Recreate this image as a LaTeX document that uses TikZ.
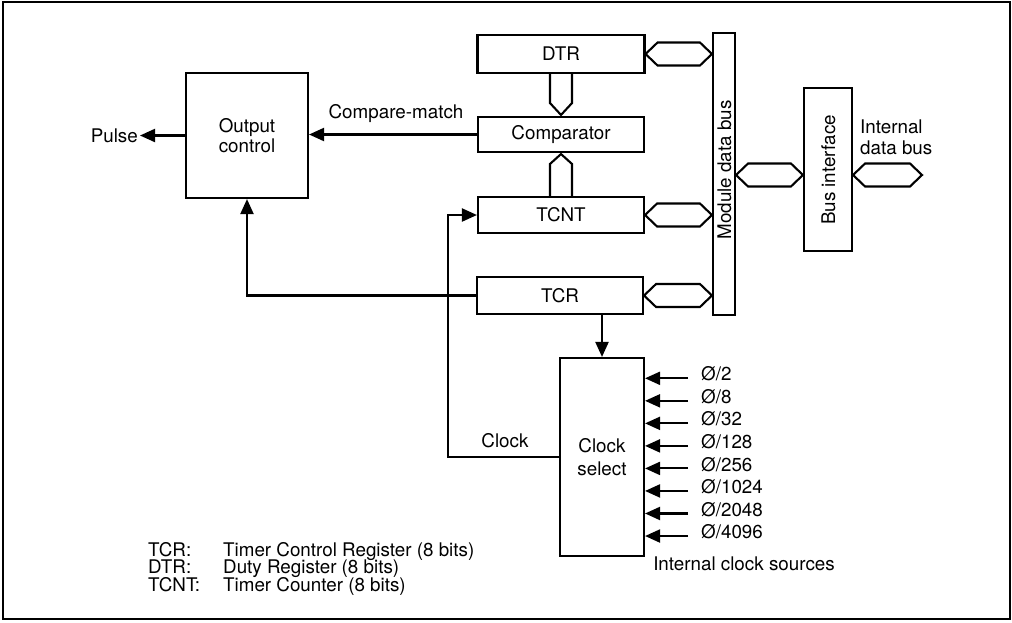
\documentclass[tikz,border=0pt]{standalone}
\usepackage{fontspec}
\setmainfont{TeX Gyre Heros}
\usetikzlibrary{arrows.meta,calc}
\newcommand\fsz{\fontsize{18.8}{21}\selectfont}
\newcommand\hbus[2]{\draw[buspath] (#1) -- ($(#1)+(12,-11.5)$) -- ($(#2)+(-12,-11.5)$) -- (#2) -- ($(#2)+(-12,11.5)$) -- ($(#1)+(12,11.5)$) -- cycle;}
\begin{document}
\begin{tikzpicture}[x=1pt,y=-1pt,
  lw/.style={line width=2.1pt},
  box/.style={draw,lw,inner sep=0pt,align=center,font=\fsz},
  txt/.style={inner sep=0pt,font=\fsz},
  arr/.style={lw,-{Triangle[length=15pt,width=13pt]}},
  buspath/.style={lw,line join=miter}]
\useasboundingbox (0,0) rectangle (1012,622);
\draw[line width=2.4pt] (3,2) rectangle (1010,619);

% blocks
\node[box,minimum width=122,minimum height=125] (oc) at (247,135.5) {Output\\[-1pt]control};
\node[box,minimum width=167,minimum height=38] (dtr) at (561,54) {DTR};
\node[box,minimum width=166,minimum height=35] (cmp) at (561,134.5) {Comparator};
\node[box,minimum width=166,minimum height=36] (tcnt) at (561,215) {TCNT};
\node[box,minimum width=166,minimum height=37] (tcr) at (560,295.5) {TCR};
\node[box,minimum width=84,minimum height=198] (cs) at (602,457) {Clock\\[2pt]select};
\node[box,minimum width=22,minimum height=282] (bar) at (724,174) {};
\node[txt,rotate=90] (mdb) at (724.5,170) {Module data bus};
\node[box,minimum width=48,minimum height=163] (bi) at (828,169.5) {};
\node[txt,rotate=90] (bitxt) at (828.5,170) {Bus interface};

% horizontal buses
\coordinate (b1) at (dtr.east -| bar.west);
\coordinate (b2) at (tcnt.east -| bar.west);
\coordinate (b3) at (tcr.east -| bar.west);
\coordinate (b4l) at (bar.east |- 0,175);
\coordinate (b4r) at (bi.west |- 0,175);
\coordinate (b5l) at (bi.east |- 0,175);
\coordinate (ibus) at (922,175);
\hbus{dtr.east}{b1}
\hbus{tcnt.east}{b2}
\hbus{tcr.east}{b3}
\hbus{b4l}{b4r}
\hbus{b5l}{ibus}
\node[txt,align=left,anchor=west] (idb) at (860,137.5) {Internal\\data bus};

% vertical buses
\draw[buspath] ($(dtr.south)+(-11,0)$) -- ++(0,29) -- ($(cmp.north)+(0,-1)$) -- ($(dtr.south)+(11,29)$) -- ++(0,-29);
\draw[buspath] ($(tcnt.north)+(-11,0)$) -- ++(0,-32) -- ($(cmp.south)+(0,1)$) -- ($(tcnt.north)+(11,-32)$) -- ++(0,32);

% signals
\node[txt,anchor=east,inner xsep=2pt] (pulse) at (140,135.5) {Pulse};
\draw[arr] (oc.west) -- (pulse.east);
\draw[arr] (cmp.west) -- (cmp.west -| oc.east);
\node[txt] (cmlbl) at (396,114) {Compare-match};
\draw[arr] (tcr.west) -| (oc.south);
\coordinate (clk) at (448,0);
\draw[arr] (cs.west) -- (cs.west -| clk) |- (tcnt.west);
\node[txt] (clklbl) at (505,441) {Clock};
\draw[arr] (tcr.south -| cs.north) -- (cs.north);

% clock sources
\foreach \lab [count=\i] in {2,8,32,128,256,1024,2048,4096} {
  \pgfmathsetmacro\yy{378.3+22.53*(\i-1)}
  \coordinate (s\i) at (688,\yy);
  \node[txt,anchor=mid west] (in\i) at (701,\yy) {Ø/\lab};
  \draw[arr] (s\i) -- (cs.east |- s\i);
}
\node[txt] (ics) at (744,564) {Internal clock sources};

% legend
\node[txt,anchor=base west] (k1) at (148,556) {TCR:};
\node[txt,anchor=base west] (v1) at (223,556) {Timer Control Register (8 bits)};
\node[txt,anchor=base west] (k2) at (148,573.5) {DTR:};
\node[txt,anchor=base west] (v2) at (223,573.5) {Duty Register (8 bits)};
\node[txt,anchor=base west] (k3) at (148,591) {TCNT:};
\node[txt,anchor=base west] (v3) at (223,591) {Timer Counter (8 bits)};
\end{tikzpicture}
\end{document}
